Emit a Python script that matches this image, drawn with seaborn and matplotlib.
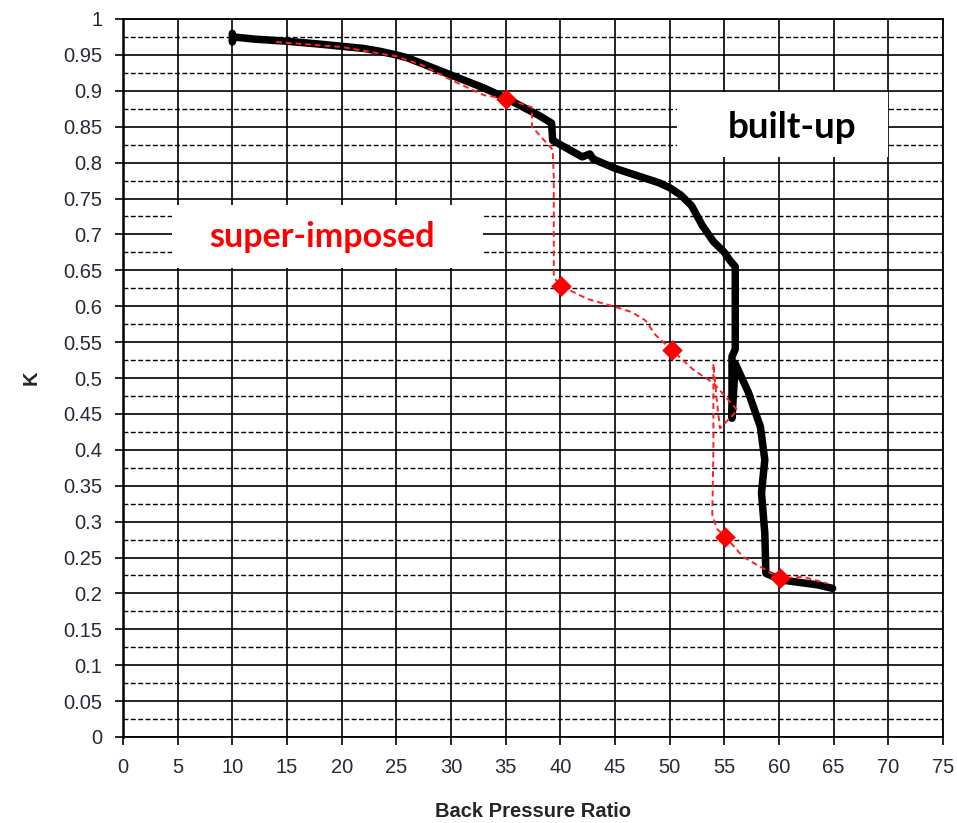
import numpy as np
import pandas as pd
import matplotlib
matplotlib.use("Agg")
import matplotlib.pyplot as plt
from matplotlib.ticker import MultipleLocator
from matplotlib.patches import Rectangle
import seaborn as sns

# ---- data ----
builtup_x = [10.0, 10.0, 10.1, 12.0, 15.0, 18.0, 20.0, 22.0, 23.5, 25.0, 26.0, 27.0, 28.0, 29.0,
             30.0, 31.0, 32.0, 33.0, 34.0, 35.0, 36.5, 38.0, 39.2, 39.3,
             40.0, 42.0, 42.7, 43.0, 45.0, 47.0, 49.0, 50.0, 51.0, 52.0, 53.0, 54.0, 55.0, 55.5, 56.0, 56.0,
             55.7, 55.7, 56.0, 57.2, 58.3, 58.7, 58.4, 58.7, 58.8, 60.1, 62.0, 63.5, 64.9]
builtup_y = [0.980, 0.968, 0.975, 0.972, 0.969, 0.965, 0.962, 0.959, 0.955, 0.950, 0.946, 0.940, 0.934, 0.928,
             0.922, 0.916, 0.910, 0.904, 0.897, 0.890, 0.878, 0.866, 0.855, 0.831,
             0.825, 0.808, 0.812, 0.805, 0.792, 0.782, 0.772, 0.765, 0.755, 0.740, 0.712, 0.690, 0.675, 0.664, 0.655, 0.540,
             0.530, 0.444, 0.520, 0.480, 0.432, 0.386, 0.340, 0.284, 0.228, 0.219, 0.215, 0.212, 0.207]

super_x = [14.0, 20.0, 25.0, 27.5, 30.0, 33.0, 35.0, 37.4, 37.4, 39.3, 39.4, 39.4, 40.07,
           42.5, 44.8, 46.5, 47.8, 48.7, 50.2, 52.2, 54.0, 56.2, 54.6, 54.3, 54.0, 54.0, 53.9, 54.3,
           55.1, 56.7, 58.3, 60.1, 62.2, 64.4]
super_y = [0.968, 0.961, 0.948, 0.935, 0.915, 0.894, 0.889, 0.877, 0.850, 0.818, 0.780, 0.640, 0.628,
           0.610, 0.600, 0.592, 0.580, 0.560, 0.539, 0.511, 0.493, 0.455, 0.430, 0.470, 0.520, 0.400, 0.310, 0.290,
           0.279, 0.251, 0.237, 0.221, 0.223, 0.214]

marker_x = [35.0, 40.07, 50.2, 55.1, 60.1]
marker_y = [0.889, 0.628, 0.539, 0.279, 0.221]

x_ticks = list(range(0, 80, 5))
y_ticks = [round(v * 0.05, 2) for v in range(0, 21)]
y_tick_labels = ["0", "0.05", "0.1", "0.15", "0.2", "0.25", "0.3", "0.35", "0.4", "0.45",
                 "0.5", "0.55", "0.6", "0.65", "0.7", "0.75", "0.8", "0.85", "0.9", "0.95", "1"]

builtup = pd.DataFrame({"x": builtup_x, "y": builtup_y})
superimp = pd.DataFrame({"x": super_x, "y": super_y})
markers = pd.DataFrame({"x": marker_x, "y": marker_y})

sns.set_theme(style="white")
plt.rcParams["font.family"] = ["Liberation Sans", "DejaVu Sans"]

fig = plt.figure(figsize=(9.57, 8.23), dpi=100)
ax = fig.add_axes([123 / 957, 1 - 737 / 823, 820 / 957, 718 / 823])

ax.set_xlim(0, 75)
ax.set_ylim(0, 1)
ax.set_xticks(x_ticks)
ax.set_yticks(y_ticks)
ax.set_yticklabels(y_tick_labels)
ax.yaxis.set_minor_locator(MultipleLocator(0.025))

ax.set_axisbelow(True)
ax.grid(which="major", axis="both", color="black", lw=1.2)
ax.grid(which="minor", axis="y", color="black", lw=1.0, ls=(0, (3.5, 1.8)))

for s in ax.spines.values():
    s.set_color("black")
    s.set_linewidth(1.3)
ax.spines["left"].set_linewidth(1.8)

ax.tick_params(axis="both", which="major", direction="out", length=6, width=1.2,
               color="black", labelsize=14.5, labelcolor="#2a2838", left=True, bottom=True)
ax.tick_params(axis="x", pad=9)
ax.tick_params(axis="y", pad=9)
ax.tick_params(which="minor", length=0)

# white label boxes hiding the grid
ax.add_patch(Rectangle((4.5, 0.653), 28.4, 0.088, facecolor="white", edgecolor="none", zorder=1))
ax.add_patch(Rectangle((50.7, 0.808), 19.3, 0.090, facecolor="white", edgecolor="none", zorder=1))

sns.lineplot(data=superimp, x="x", y="y", sort=False, estimator=None, ax=ax,
             color="#ff2020", lw=1.4, dashes=False, zorder=3)
ax.lines[-1].set_linestyle((0, (3, 2)))
sns.lineplot(data=builtup, x="x", y="y", sort=False, estimator=None, ax=ax,
             color="black", lw=5.4, zorder=2)
ax.lines[-1].set_solid_joinstyle("round")
ax.lines[-1].set_solid_capstyle("round")
sns.scatterplot(data=markers, x="x", y="y", marker="D", s=110, color="#ff0000",
                edgecolor="#ff0000", linewidth=0, ax=ax, zorder=4)

ax.text(18.2, 0.697, "super-imposed", color="#ff0000", fontsize=24.5, fontweight="bold",
        family=["Lato", "DejaVu Sans"], ha="center", va="center", zorder=5)
ax.text(61.2, 0.849, "built-up", color="black", fontsize=26.5, fontweight="bold",
        family=["Lato", "DejaVu Sans"], ha="center", va="center", zorder=5)

ax.set_xlabel("Back Pressure Ratio", fontsize=14.5, fontweight="bold", labelpad=18)
ax.set_ylabel("K", fontsize=14.5, fontweight="bold", labelpad=16)

fig.savefig("out.png", dpi=100)
